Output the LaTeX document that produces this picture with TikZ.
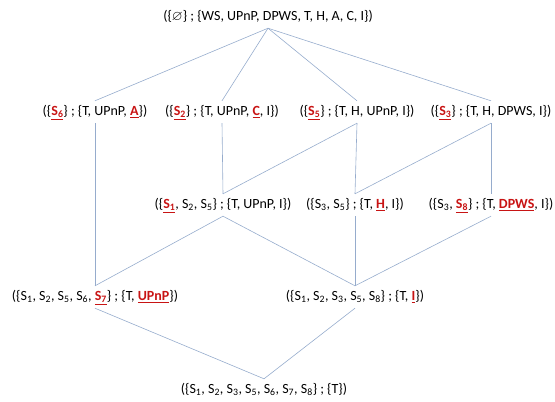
\documentclass[tikz,border=0pt]{standalone}
\usepackage{amssymb}
\usepackage{fontspec}
\setmainfont{Carlito}
\definecolor{hlred}{RGB}{200,20,20}
\definecolor{edgeblue}{RGB}{150,172,205}
\newcommand{\hl}[1]{\textcolor{hlred}{\underline{\textbf{#1}}}}
\newcommand{\Sx}[1]{S\textsubscript{#1}}

\begin{document}
\begin{tikzpicture}[x=1pt, y=-1pt,
	elem/.style={inner sep=0pt, text height=11pt, text depth=4pt, minimum height=22pt, font=\fontsize{14}{16}\selectfont},
	link/.style={draw=edgeblue, line width=0.6pt}]
				\useasboundingbox (0,0) rectangle (555,402);
				% top
				\node[elem] (top)at(268, 17) {(\{$\varnothing$\} ; \{WS, UPnP, DPWS, T, H, A, C, I\})};
				% first level
				\node[elem] (s6)at(95, 112) {(\{\hl{\Sx{6}}\} ; \{T, UPnP, \hl{A}\})};
				\node[elem] (s2)at(222, 112) {(\{\hl{\Sx{2}}\} ; \{T, UPnP, \hl{C}, I\})};
				\node[elem] (s5)at(357, 112) {(\{\hl{\Sx{5}}\} ; \{T, H, UPnP, I\})};
				\node[elem] (s3)at(491, 112) {(\{\hl{\Sx{3}}\} ; \{T, H, DPWS, I\})};
				% second level
				\node[elem] (s125)at(223, 205) {(\{\hl{\Sx{1}}, \Sx{2}, \Sx{5}\} ; \{T, UPnP, I\})};
				\node[elem] (s35)at(355, 205) {(\{\Sx{3}, \Sx{5}\} ; \{T, \hl{H}, I\})};
				\node[elem] (s38)at(491, 205) {(\{\Sx{3}, \hl{\Sx{8}}\} ; \{T, \hl{DPWS}, I\})};
				% third level
				\node[elem] (s12567)at(95, 297) {(\{\Sx{1}, \Sx{2}, \Sx{5}, \Sx{6}, \hl{\Sx{7}}\} ; \{T, \hl{UPnP}\})};
				\node[elem] (s12358)at(355, 297) {(\{\Sx{1}, \Sx{2}, \Sx{3}, \Sx{5}, \Sx{8}\} ; \{T, \hl{I}\})};
				% bottom
				\node[elem] (bot)at(264, 390) {(\{\Sx{1}, \Sx{2}, \Sx{3}, \Sx{5}, \Sx{6}, \Sx{7}, \Sx{8}\} ; \{T\})};
				\draw[link] (top.south) -- (s6.north);
				\draw[link] (top.south) -- (s2.north);
				\draw[link] (top.south) -- (s5.north);
				\draw[link] (top.south) -- (s3.north);
				\draw[link] (s6.south) -- (s12567.north);
				\draw[link] (s2.south) -- (s125.north);
				\draw[link] (s5.south) -- (s125.north);
				\draw[link] (s5.south) -- (s35.north);
				\draw[link] (s3.south) -- (s35.north);
				\draw[link] (s3.south) -- (s38.north);
				\draw[link] (s125.south) -- (s12567.north);
				\draw[link] (s125.south) -- (s12358.north);
				\draw[link] (s35.south) -- (s12358.north);
				\draw[link] (s38.south) -- (s12358.north);
				\draw[link] (s12567.south) -- (bot.north);
				\draw[link] (s12358.south) -- (bot.north);
			\end{tikzpicture}
\end{document}
